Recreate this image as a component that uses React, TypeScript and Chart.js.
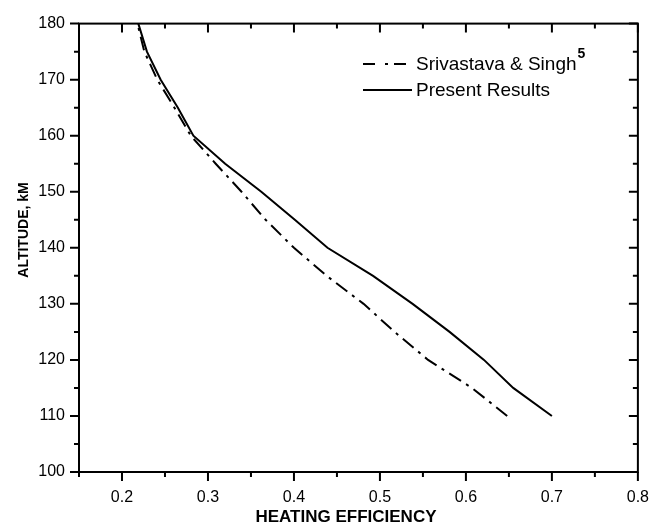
import React, { useEffect, useRef } from "react";
import { Chart, registerables } from "chart.js";

Chart.register(...registerables);

// Altitude (km) for every data row
const altitudes = [110, 115, 120, 125, 130, 135, 140, 145, 150, 155, 160, 165, 170, 175, 180];
// Heating efficiency, present results (solid)
const presentResults = [0.7, 0.655, 0.621, 0.581, 0.538, 0.492, 0.439, 0.401, 0.362, 0.32, 0.283, 0.265, 0.245, 0.229, 0.219];
// Heating efficiency, Srivastava & Singh (dash-dot)
const srivastavaSingh = [0.648, 0.607, 0.556, 0.517, 0.481, 0.438, 0.4, 0.367, 0.339, 0.309, 0.28, 0.261, 0.241, 0.226, 0.218];

const seriesLabels = ["Srivastava & Singh", "Present Results"];
const seriesSuperscript = "5";
const xTitle = "HEATING EFFICIENCY";
const yTitle = "ALTITUDE, kM";

const FONT = "'Liberation Sans', Arial, sans-serif";
const DASH_DOT = [14, 6, 3, 6];

const isMajor = (v: number, step: number) => Math.abs(v / step - Math.round(v / step)) < 1e-6;

const framePlugin = {
  id: "frameTicks",
  afterDraw(chart: any) {
    const ctx = chart.ctx as CanvasRenderingContext2D;
    const { left, right, top, bottom } = chart.chartArea;
    const xs = chart.scales.x;
    const ys = chart.scales.y;
    ctx.save();
    ctx.strokeStyle = "#000";
    ctx.lineWidth = 2;
    ctx.setLineDash([]);
    ctx.strokeRect(left, top, right - left, bottom - top);
    const MAJ = 9;
    const MIN = 5;
    ctx.lineWidth = 2;
    xs.ticks.forEach((t: any) => {
      const px = xs.getPixelForValue(t.value);
      const len = isMajor(t.value, 0.1) ? MAJ : MIN;
      ctx.beginPath();
      ctx.moveTo(px, bottom);
      ctx.lineTo(px, bottom + len);
      ctx.moveTo(px, top);
      ctx.lineTo(px, top + len);
      ctx.stroke();
    });
    ys.ticks.forEach((t: any) => {
      const py = ys.getPixelForValue(t.value);
      const len = isMajor(t.value, 10) ? MAJ : MIN;
      ctx.beginPath();
      ctx.moveTo(left, py);
      ctx.lineTo(left - len, py);
      ctx.moveTo(right, py);
      ctx.lineTo(right - len, py);
      ctx.stroke();
    });

    // axis titles
    ctx.fillStyle = "#000";
    ctx.font = `bold 17px ${FONT}`;
    ctx.textAlign = "center";
    ctx.textBaseline = "middle";
    ctx.fillText(xTitle, 346, 517);
    ctx.save();
    ctx.translate(24, 230);
    ctx.rotate(-Math.PI / 2);
    ctx.font = `bold 14px ${FONT}`;
    ctx.fillText(yTitle, 0, 0);
    ctx.restore();

    // legend
    const ds = chart.data.datasets;
    const rows = [
      { y: 64, dash: [12, 10, 3, 6], label: ds[0].label, sup: seriesSuperscript },
      { y: 90, dash: [] as number[], label: ds[1].label, sup: "" },
    ];
    rows.forEach((r) => {
      ctx.beginPath();
      ctx.setLineDash(r.dash);
      ctx.lineWidth = 2;
      ctx.moveTo(363, r.y);
      ctx.lineTo(412, r.y);
      ctx.stroke();
      ctx.setLineDash([]);
      ctx.font = `19px ${FONT}`;
      ctx.textAlign = "left";
      ctx.textBaseline = "middle";
      ctx.fillText(r.label, 416, r.y + 1);
      if (r.sup) {
        const w = ctx.measureText(r.label).width;
        ctx.font = `bold 14px ${FONT}`;
        ctx.fillText(r.sup, 416 + w + 1, r.y - 10);
      }
    });
    ctx.restore();
  },
};

export default function App() {
  const ref = useRef<HTMLCanvasElement | null>(null);
  useEffect(() => {
    if (!ref.current) return;
    const chart = new Chart(ref.current, {
      type: "scatter",
      data: {
        datasets: [
          {
            label: seriesLabels[0],
            data: altitudes.map((a, i) => ({ x: srivastavaSingh[i], y: a })),
            showLine: true,
            borderColor: "#000",
            borderWidth: 2,
            borderDash: DASH_DOT,
            pointRadius: 0,
            tension: 0,
          },
          {
            label: seriesLabels[1],
            data: altitudes.map((a, i) => ({ x: presentResults[i], y: a })),
            showLine: true,
            borderColor: "#000",
            borderWidth: 2,
            pointRadius: 0,
            tension: 0,
          },
        ],
      },
      options: {
        animation: false,
        responsive: false,
        devicePixelRatio: 1,
        layout: { padding: { top: 18, right: 23, left: 0, bottom: 0 } },
        plugins: { legend: { display: false }, tooltip: { enabled: false } },
        scales: {
          x: {
            type: "linear",
            min: 0.15,
            max: 0.8,
            grid: { display: false, drawTicks: false },
            border: { display: false },
            afterFit: (s: any) => {
              s.height = 55;
            },
            ticks: {
              stepSize: 0.05,
              padding: 16,
              color: "#000",
              font: { family: FONT, size: 16 },
              maxRotation: 0,
              autoSkip: false,
              callback: (v: any) => (isMajor(Number(v), 0.1) && Number(v) > 0.16 ? Number(v).toFixed(1) : ""),
            },
          },
          y: {
            type: "linear",
            min: 100,
            max: 180,
            grid: { display: false, drawTicks: false },
            border: { display: false },
            afterFit: (s: any) => {
              s.width = 79;
            },
            ticks: {
              stepSize: 5,
              padding: 14,
              color: "#000",
              font: { family: FONT, size: 16 },
              autoSkip: false,
              callback: (v: any) => (isMajor(Number(v), 10) ? String(v) : ""),
            },
          },
        },
      },
      plugins: [framePlugin],
    });
    return () => chart.destroy();
  }, []);
  return (
    <div style={{ position: "absolute", left: 0, top: 0, width: 665, height: 527, background: "#fff" }}>
      <canvas ref={ref} width={665} height={527} />
    </div>
  );
}
